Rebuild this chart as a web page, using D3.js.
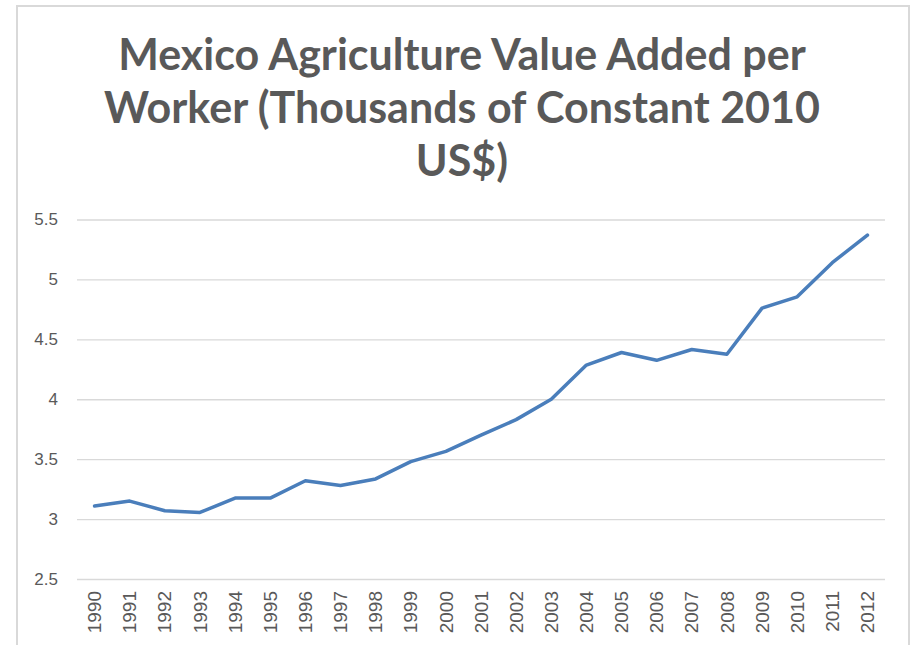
<!DOCTYPE html>
<html>
<head>
<meta charset="utf-8">
<script src="https://cdn.jsdelivr.net/npm/d3@7"></script>
<style>
  html, body { margin: 0; padding: 0; background: #fff; }
  svg { display: block; }
</style>
</head>
<body>
<svg id="chart" width="913" height="645"></svg>
<script>
const titleLines = ["Mexico Agriculture Value Added per", "Worker (Thousands of Constant 2010", "US$)"];
const years = ["1990","1991","1992","1993","1994","1995","1996","1997","1998","1999","2000","2001","2002","2003","2004","2005","2006","2007","2008","2009","2010","2011","2012"];
const values = [3.11, 3.15, 3.07, 3.055, 3.175, 3.175, 3.32, 3.28, 3.335, 3.48, 3.565, 3.70, 3.83, 4.00, 4.285, 4.39, 4.325, 4.415, 4.375, 4.76, 4.855, 5.14, 5.37];
const yTicks = [2.5, 3, 3.5, 4, 4.5, 5, 5.5];

const svg = d3.select("#chart");
const textColor = "#595959";

// outer chart border
svg.append("path")
  .attr("d", "M17,650 L17,6 L909,6 L909,650")
  .attr("fill", "none")
  .attr("stroke", "#d9d9d9")
  .attr("stroke-width", 2);

const plot = { left: 77, right: 885, top: 219.5, bottom: 579 };

const x = d3.scaleBand().domain(years).range([plot.left, plot.right]).paddingInner(0).paddingOuter(0);
const y = d3.scaleLinear().domain([2.5, 5.5]).range([plot.bottom, plot.top]);

// title
const title = svg.append("text")
  .attr("text-anchor", "middle")
  .attr("fill", textColor)
  .style("font-family", "Lato, 'Open Sans', sans-serif")
  .style("font-weight", 700)
  .style("font-size", "43px");
titleLines.forEach((t, i) => {
  title.append("tspan").attr("x", 462).attr("y", 70 + i * 53).text(t);
});

// gridlines
const yAxis = d3.axisLeft(y).tickValues(yTicks).tickSize(-(plot.right - plot.left)).tickPadding(19)
  .tickFormat(d3.format("~g"));
const gy = svg.append("g").attr("transform", `translate(${plot.left},0)`).call(yAxis);
gy.select(".domain").remove();
gy.selectAll(".tick line").attr("stroke", "#d9d9d9").attr("stroke-width", 1.3);
gy.selectAll(".tick text")
  .attr("fill", textColor)
  .style("font-family", "'Liberation Sans', Arial, sans-serif")
  .style("font-size", "17px");

// x axis labels
const xAxis = d3.axisBottom(x).tickSize(0).tickPadding(0);
const gx = svg.append("g").attr("transform", `translate(0,${plot.bottom})`).call(xAxis);
gx.select(".domain").remove();
gx.selectAll(".tick text")
  .attr("fill", textColor)
  .style("font-family", "'Liberation Sans', Arial, sans-serif")
  .style("font-size", "19px")
  .attr("text-anchor", "end")
  .attr("transform", "rotate(-90)")
  .attr("x", -12)
  .attr("y", 0)
  .attr("dy", "0.35em");

// line
const line = d3.line()
  .x((d, i) => x(years[i]) + x.bandwidth() / 2)
  .y(d => y(d));
svg.append("path")
  .datum(values)
  .attr("d", line)
  .attr("fill", "none")
  .attr("stroke", "#4a7ebb")
  .attr("stroke-width", 3.5)
  .attr("stroke-linejoin", "round")
  .attr("stroke-linecap", "round");
</script>
</body>
</html>
